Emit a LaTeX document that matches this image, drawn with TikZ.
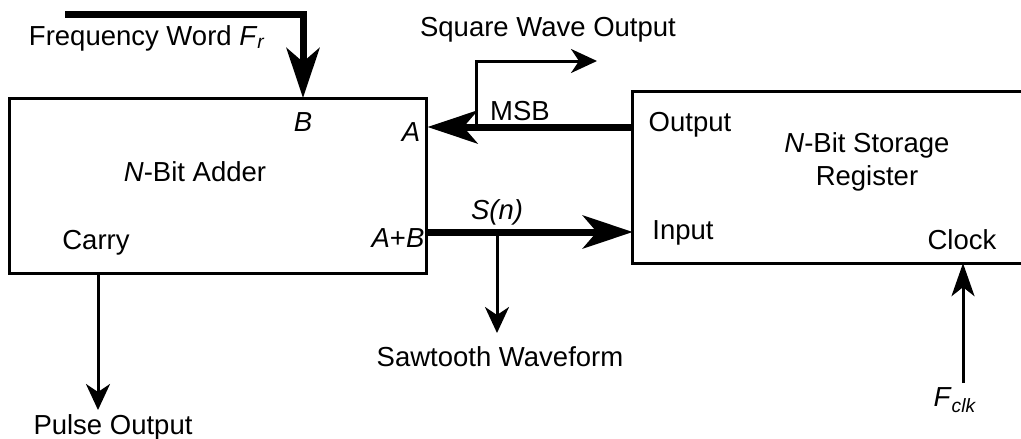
\documentclass[tikz,border=0pt]{standalone}
\usepackage{fontspec}
\setmainfont{Liberation Sans}
\usetikzlibrary{arrows.meta,calc}
\begin{document}
\begin{tikzpicture}[x=1pt,y=-1pt,
  font=\fontsize{27.5}{32}\selectfont,
  box/.style={draw, line width=3pt, inner sep=0pt},
  lbl/.style={inner sep=0pt, anchor=center},
  bus/.style={line width=7pt, -{Stealth[length=50pt,width=33pt,inset=14pt]}},
  sig/.style={line width=3pt, -{Stealth[length=26pt,width=24pt,inset=8pt]}}]
\useasboundingbox (0,0) rectangle (1021,439);
\fill[white] (0,0) rectangle (1021,439);
% blocks
\node[box, minimum width=417pt, minimum height=175pt] (adder) at (217.5,185.5) {};
\node[inner sep=0pt, minimum width=388pt, minimum height=171pt] (reg) at (827,177.5) {};
\draw[line width=3pt] (reg.north east) -- (reg.north west) -- (reg.south west) -- (reg.south east);
% labels inside adder
\node[lbl] (nadder) at (195,172) {\textit{N}-Bit Adder};
\node[lbl] (lb) at (303,122) {\textit{B}};
\node[lbl] (la) at (411,132) {\textit{A}};
\node[lbl] (lcarry) at (96,243) {Carry};
\node[lbl] (lab) at (398,238) {\textit{A}+\textit{B}};
% labels inside register
\node[lbl] (nreg1) at (867,145) {\textit{N}-Bit Storage};
\node[lbl] (nreg2) at (867,178) {Register};
\node[lbl] (lout) at (690,125) {Output};
\node[lbl] (lin) at (683,233) {Input};
\node[lbl] (lclk) at (962,240) {Clock};
% external labels
\node[lbl] (tfw) at (147,38) {Frequency Word \textit{F}\textsubscript{\textit{r}}};
\node[lbl] (tsq) at (548,30) {Square Wave Output};
\node[lbl] (tmsb) at (520,111) {MSB};
\node[lbl] (tsn) at (497,212) {\textit{S(n)}};
\node[lbl] (tsaw) at (500,357) {Sawtooth Waveform};
\node[lbl] (tpulse) at (113,427) {Pulse Output};
\node[lbl] (tfclk) at (955,400) {\textit{F}\textsubscript{\textit{clk}}};
% coordinates
\coordinate (fwstart) at (65,14);
\coordinate (bin) at (303,98);
\coordinate (msb) at (0,127);
\coordinate (sn) at (0,232);
\coordinate (sqtap) at (476,127);
\coordinate (sqend) at (597,61);
\coordinate (sawtap) at (497,232);
\coordinate (sawend) at (497,333);
\coordinate (carryx) at (98,0);
\coordinate (pulseend) at (98,410);
\coordinate (clkx) at (963,0);
\coordinate (fclkstart) at (963,383);
% connectors
\draw[bus] (fwstart) -| (bin);
\draw[bus] (reg.west |- msb) -- (adder.east |- msb);
\draw[bus] (adder.east |- sn) -- (reg.west |- sn);
\draw[sig] (sqtap) |- (sqend);
\draw[sig] (sawtap) -- (sawend);
\draw[sig] (adder.south -| carryx) -- (pulseend);
\draw[line width=3pt, -{Stealth[length=33pt,width=23pt,inset=9pt]}] (fclkstart) -- (reg.south -| clkx);
\end{tikzpicture}
\end{document}
